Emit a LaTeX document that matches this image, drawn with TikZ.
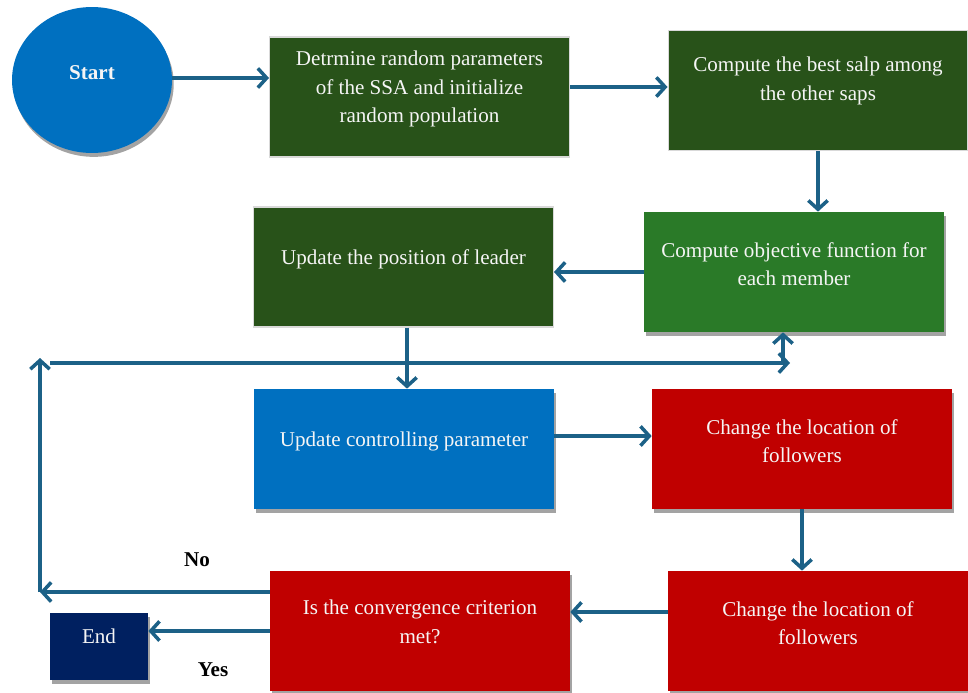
\documentclass[tikz,border=0pt]{standalone}
\usepackage{fontspec}
\setmainfont{Liberation Serif}
\usetikzlibrary{calc,arrows.meta,shapes.geometric,shadows}
\definecolor{ssablue}{HTML}{0070C0}
\definecolor{ssadkgreen}{HTML}{285219}
\definecolor{ssagreen}{HTML}{2A7A28}
\definecolor{ssared}{HTML}{C00000}
\definecolor{ssanavy}{HTML}{002060}
\definecolor{ssaarrow}{HTML}{1C6187}
\tikzset{
  flow/.style={draw=ssaarrow,line width=2pt,-{Straight Barb[length=5pt,width=11pt]}},
  box/.style={rectangle,minimum width=6cm,minimum height=2.4cm,inner sep=0pt},
  shade/.style={drop shadow={shadow xshift=1pt,shadow yshift=-2.2pt,fill=black!45,opacity=.8}},
  dkbox/.style={box,fill=ssadkgreen,draw=black!15,line width=.6pt},
  gnbox/.style={box,fill=ssagreen,shade},
  blbox/.style={box,fill=ssablue,shade},
  rdbox/.style={box,fill=ssared,shade},
  boxtext/.style={align=center,text=white!96!black,font=\fontsize{12}{16.3}\selectfont,yshift=4.4pt},
  answer/.style={font=\fontsize{12}{14}\selectfont\bfseries}
}
\begin{document}
\begin{tikzpicture}[x=0.02cm,y=-0.02cm]
\useasboundingbox (0,0) rectangle (968,693);
\node[ellipse,fill=ssablue,minimum width=3.2cm,minimum height=2.92cm,shade,label={[boxtext,yshift=0pt]center:\textbf{Start}}] (start) at (92,80) {};
\node[dkbox,label={[boxtext]center:{Detrmine random parameters\\of the SSA and initialize\\random population}}] (init) at (419.5,97) {};
\node[dkbox,label={[boxtext,yshift=1pt]center:{Compute the best salp among\\the other saps}}] (best) at (818,90.5) {};
\node[gnbox,label={[boxtext]center:{Compute objective function for\\each member}}] (objf) at (794,272) {};
\node[dkbox,label={[boxtext]center:{Update the position of leader}}] (leader) at (403.5,267) {};
\node[blbox,label={[boxtext]center:{Update controlling parameter}}] (update) at (404,449) {};
\node[rdbox,label={[boxtext]center:{Change the location of\\followers}}] (chg1) at (802,449) {};
\node[rdbox,label={[boxtext]center:{Change the location of\\followers}}] (chg2) at (818,631) {};
\node[rdbox,label={[boxtext,yshift=1pt]center:{Is the convergence criterion\\met?}}] (conv) at (420,631) {};
\node[rectangle,fill=ssanavy,minimum width=1.96cm,minimum height=1.34cm,shade,label={[boxtext,yshift=1.5pt]center:End}] (end) at (99,646.5) {};
\node[answer] (no) at (197,560) {No};
\node[answer] (yes) at (213,670) {Yes};
\coordinate (loopL) at (50,363);
\coordinate (loopR) at (790,363);
\coordinate (loopB) at (40,592);
\coordinate (loopT) at (40,358);
\coordinate (up) at (783,363);
\draw[flow] ($(start.east)+(0,-2)$) coordinate (s1) -- (s1 -| init.west);
\draw[flow] ($(init.east)+(0,-10)$) coordinate (s2) -- (s2 -| best.west);
\draw[flow] (best.south) -- (best.south |- objf.north);
\draw[flow] (objf.west) -- (objf.west -| leader.east);
\draw[flow] ($(leader.south)+(3.5,0)$) coordinate (s5) -- (s5 |- update.north);
\draw[flow] (loopL) -- (loopR);
\draw[flow] (up) -- (up |- objf.south);
\draw[flow] ($(update.east)+(0,-13)$) coordinate (s3) -- (s3 -| chg1.west);
\draw[flow] (chg1.south) -- (chg1.south |- chg2.north);
\draw[flow] ($(chg2.west)+(0,-19)$) coordinate (s4) -- (s4 -| conv.east);
\draw[flow] ($(conv.west)+(0,-39)$) -- (loopB);
\draw[flow] (loopB) -- (loopT);
\draw[flow] (conv.west) -- (conv.west -| end.east);
\end{tikzpicture}
\end{document}
